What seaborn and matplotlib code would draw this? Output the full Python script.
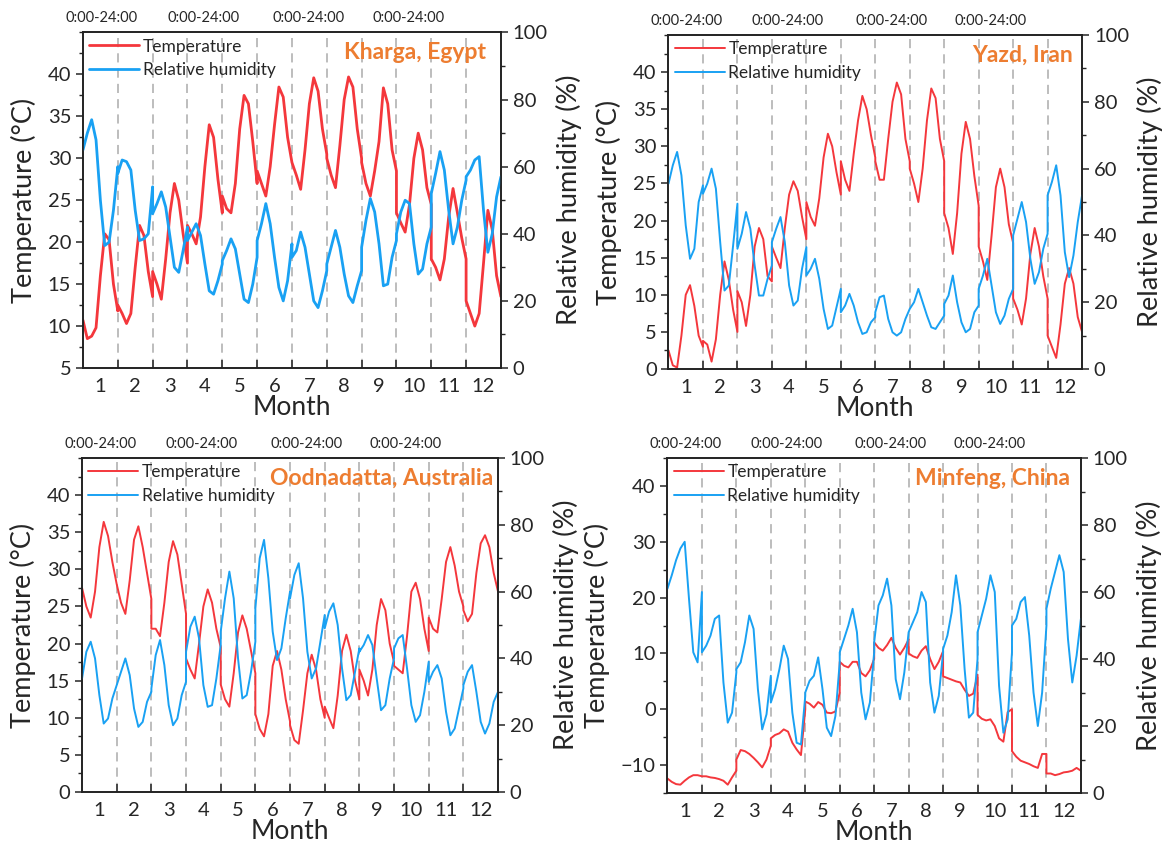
import pandas as pd
import seaborn as sns
import matplotlib.pyplot as plt
from matplotlib.ticker import MultipleLocator
import matplotlib.transforms as mtransforms

# each month is one mean day (0:00-24:00), read every 3 hours
MONTHS = list(range(1, 13))
HOURS = [0, 3, 6, 9, 12, 15, 18, 21, 24]

KHARGA_T = [
    [10.7, 8.5, 8.8, 9.8, 16.0, 21.0, 20.3, 15.0, 11.8],
    [12.5, 11.5, 10.3, 11.5, 17.0, 22.0, 20.8, 16.5, 13.5],
    [16.5, 15.0, 13.2, 18.0, 23.5, 27.0, 25.0, 21.0, 17.5],
    [22.0, 21.0, 19.8, 23.0, 29.0, 34.0, 32.5, 27.5, 23.5],
    [25.5, 24.0, 23.5, 27.0, 33.5, 37.5, 36.5, 32.0, 27.0],
    [28.5, 27.0, 25.5, 29.0, 34.0, 38.5, 37.3, 32.5, 29.5],
    [29.5, 28.0, 26.3, 31.0, 36.5, 39.6, 38.0, 33.5, 30.5],
    [30.0, 28.0, 26.5, 31.5, 37.0, 39.7, 38.5, 33.5, 30.0],
    [29.5, 27.0, 25.5, 28.5, 32.0, 38.4, 36.5, 31.0, 28.5],
    [23.5, 22.3, 21.2, 24.5, 30.0, 33.0, 31.0, 26.5, 24.5],
    [18.0, 17.0, 15.5, 18.0, 23.0, 26.4, 23.5, 20.5, 18.0],
    [13.0, 11.5, 10.0, 11.5, 17.5, 23.8, 21.5, 16.0, 13.5],
]
KHARGA_RH = [
    [65, 70, 74, 68, 50, 36.5, 37.5, 47, 60],
    [58, 62, 61.5, 59, 47, 38, 38.5, 40, 54],
    [46, 49, 52.5, 48, 39, 30, 28.5, 35, 42],
    [38, 40.5, 43, 39.5, 31, 23, 22, 26, 31],
    [32, 35, 38.5, 35.5, 28, 20.5, 19.5, 25, 33],
    [38, 43, 49, 43, 33, 24, 20, 26, 37],
    [33, 35, 40.5, 36, 28, 20, 18, 23, 29],
    [31, 36, 41, 36, 28, 21.5, 19.5, 24.5, 29],
    [36, 44, 50.5, 46.5, 37, 24.5, 25, 33, 38],
    [40, 46.5, 50, 49, 37, 28, 29.5, 37, 42],
    [52, 58, 64.5, 59, 47, 37, 42, 50, 56],
    [57, 59, 62, 63, 47, 34.5, 40, 51, 57],
]

YAZD_T = [
    [2.5, 0.5, 0.2, 4.5, 10.0, 11.3, 8.5, 4.5, 3.0],
    [3.8, 3.3, 1.0, 4.0, 10.0, 14.5, 12.0, 8.0, 5.0],
    [10.5, 9.0, 5.8, 10.0, 16.5, 19.0, 17.5, 12.5, 11.8],
    [16.5, 15.0, 13.6, 19.0, 23.5, 25.3, 24.0, 20.5, 17.5],
    [22.5, 20.5, 19.3, 23.0, 28.5, 31.7, 30.0, 26.5, 23.5],
    [28.0, 25.5, 24.0, 29.0, 33.5, 36.8, 35.0, 31.5, 28.5],
    [28.0, 25.5, 25.5, 31.0, 36.0, 38.6, 37.0, 31.0, 28.0],
    [27.0, 25.0, 22.5, 27.0, 33.5, 37.8, 36.5, 31.0, 28.0],
    [21.0, 19.0, 15.5, 21.0, 29.0, 33.3, 31.0, 26.0, 22.0],
    [16.5, 14.5, 12.0, 18.0, 24.5, 27.0, 24.5, 19.5, 17.0],
    [9.5, 8.0, 6.0, 9.5, 15.5, 19.0, 16.5, 12.5, 9.5],
    [4.5, 3.0, 1.5, 6.0, 11.5, 13.6, 11.5, 7.0, 5.0],
]
YAZD_RH = [
    [55.5, 61, 65, 58, 43, 33, 36, 50, 55],
    [52.5, 55.5, 60, 54, 38, 23.5, 25, 37, 49.5],
    [36, 40.5, 47, 42, 31, 22, 22, 27, 31],
    [38, 42, 45.5, 38, 25, 19, 20.5, 30, 36.5],
    [28, 30, 33, 27, 18, 12, 13, 18.5, 24],
    [17, 19, 22.5, 19, 14, 10.5, 11, 14, 15.5],
    [17, 21.5, 22, 15, 11, 10, 11, 15, 18],
    [18, 20, 24, 20, 16, 12.5, 12, 14, 16],
    [19.5, 22, 28, 20, 14, 11, 12, 17, 19],
    [24, 28, 33, 25, 17, 13.5, 16, 21, 24],
    [40, 45, 50, 44, 33, 25.5, 29, 36, 40.5],
    [52, 56, 61, 52, 35, 27.5, 34, 44, 52],
]

OODNADATTA_T = [
    [27.5, 25.0, 23.5, 27.0, 33.0, 36.4, 34.5, 31.0, 28.0],
    [28.0, 25.5, 24.0, 28.5, 34.0, 35.8, 33.0, 29.5, 26.0],
    [22.0, 22.0, 21.0, 25.5, 31.0, 33.8, 32.0, 28.0, 24.0],
    [18.0, 16.5, 15.3, 20.0, 25.0, 27.3, 25.5, 22.0, 19.5],
    [14.5, 12.5, 11.5, 16.0, 21.5, 23.8, 22.0, 19.0, 16.0],
    [10.5, 8.5, 7.5, 10.5, 17.0, 19.0, 16.5, 12.5, 9.5],
    [9.0, 7.0, 6.5, 11.0, 16.0, 18.5, 16.5, 12.5, 10.0],
    [11.5, 10.0, 8.6, 13.0, 19.0, 21.2, 19.0, 15.0, 12.5],
    [16.5, 15.0, 13.0, 16.5, 22.5, 26.0, 24.5, 20.0, 17.5],
    [17.0, 16.5, 16.0, 21.0, 27.0, 28.2, 26.0, 22.0, 19.0],
    [23.5, 22.0, 21.5, 26.0, 31.0, 33.0, 30.5, 27.0, 25.0],
    [24.5, 23.0, 24.0, 29.5, 33.5, 34.6, 33.0, 29.5, 27.0],
]
OODNADATTA_RH = [
    [34, 42, 45, 40, 29, 20.5, 22, 28, 32],
    [32, 36, 40, 35, 25, 19.5, 21, 27, 30],
    [31, 41, 45.5, 38, 26, 20, 22, 29, 33],
    [42, 49.5, 52.5, 46, 32, 25.5, 26, 34, 44],
    [48, 58, 66, 58, 40, 28, 29, 36, 45],
    [55, 70, 75.5, 64, 48, 39.5, 43, 52, 60],
    [58, 65, 68.5, 58, 42, 34, 37, 45, 53],
    [49, 54, 56.5, 50, 37, 27.5, 29, 36, 43],
    [42, 44, 47, 44, 34, 24.5, 26, 34, 40],
    [43, 46, 47, 37, 26, 21, 23, 30, 39],
    [33, 36, 38, 34, 24, 17, 19, 25, 31],
    [32, 36, 38, 30, 21, 17.5, 20.5, 27, 30],
]

MINFENG_T = [
    [-12.4, -13.0, -13.4, -13.5, -12.8, -12.2, -11.8, -11.8, -12.0],
    [-12.0, -12.0, -12.2, -12.3, -12.5, -12.8, -13.5, -12.2, -11.0],
    [-9.0, -7.3, -7.5, -8.0, -8.7, -9.5, -10.4, -9.0, -6.5],
    [-5.2, -4.6, -4.3, -3.6, -4.0, -6.0, -7.2, -8.2, 0.0],
    [1.4, 1.0, 0.3, 1.3, 0.8, -0.6, -0.7, -0.4, 3.0],
    [8.5, 7.8, 7.5, 8.5, 8.5, 6.5, 5.9, 7.0, 9.0],
    [12.0, 11.0, 10.5, 11.5, 12.8, 11.0, 9.8, 11.0, 12.5],
    [10.0, 9.5, 9.2, 10.5, 11.3, 9.0, 7.2, 8.5, 10.4],
    [5.9, 5.6, 5.3, 5.0, 4.8, 3.5, 2.4, 2.8, 6.2],
    [-1.0, -1.7, -2.0, -1.8, -3.0, -5.2, -5.8, -0.5, 0.0],
    [-7.5, -8.5, -9.2, -9.5, -9.8, -10.2, -10.5, -8.0, -8.0],
    [-11.5, -11.5, -11.8, -11.6, -11.3, -11.2, -11.0, -10.5, -11.0],
]
MINFENG_RH = [
    [61, 65, 69.5, 73, 75, 58, 42, 39, 60],
    [42, 44, 47, 52, 53, 33, 21, 24, 36],
    [37, 39, 45, 53, 49, 31, 19, 23.5, 35],
    [27, 31, 37, 44, 40, 24, 15, 14.5, 29],
    [30, 33.5, 35, 40.5, 31, 19.5, 17, 23, 39],
    [42, 46, 50, 55, 48, 30, 22, 27, 42],
    [45, 56, 59, 64, 56, 34, 28, 36, 48],
    [48, 51, 54, 60, 57, 33, 24, 29, 42],
    [43, 47, 54, 65, 56, 37, 22.5, 24, 40],
    [48, 53, 58, 65, 60, 32, 18, 22, 42],
    [50, 52, 57, 58.5, 47, 30, 20, 30, 50],
    [55, 61, 66, 71, 66, 46, 33, 41, 52],
]

RED = "#F4373C"
BLUE = "#19A1F3"
ORANGE = "#ED7D31"


def to_frame(values):
    rows = []
    for m, day in zip(MONTHS, values):
        for h, v in zip(HOURS, day):
            rows.append((m - 0.5 + h / 24, v))
    return pd.DataFrame(rows, columns=["pos", "value"])


def draw_panel(rect, name, temp, rh, ylim, ystep, title_x, lw):
    ax = fig.add_axes(rect)
    ax2 = ax.twinx()

    for m in MONTHS[:-1]:
        ax.axvline(m + 0.5, color="#ABABAB", lw=1.1, dashes=(6, 4), zorder=0)

    sns.lineplot(data=to_frame(temp), x="pos", y="value", ax=ax, color=RED,
                 lw=lw, estimator=None, sort=False, legend=False,
                 label="Temperature")
    sns.lineplot(data=to_frame(rh), x="pos", y="value", ax=ax2, color=BLUE,
                 lw=lw, estimator=None, sort=False, legend=False,
                 label="Relative humidity")

    ax.set_xlim(0.5, 12.5)
    ax.set_ylim(*ylim)
    ax2.set_ylim(0, 100)
    ax.yaxis.set_major_locator(MultipleLocator(ystep))
    ax.yaxis.set_minor_locator(MultipleLocator(ystep / 2))
    ax2.yaxis.set_major_locator(MultipleLocator(20))
    ax2.yaxis.set_minor_locator(MultipleLocator(10))
    ax.set_yticks([t for t in ax.get_yticks() if ylim[0] <= t <= 40])

    ax.set_xticks(MONTHS)
    ax.set_xticks([m + 0.5 for m in MONTHS[:-1]], minor=True)
    ax.tick_params(axis="x", which="major", length=0, labelsize=14.5, pad=7)
    ax.tick_params(axis="x", which="minor", direction="in", length=6, width=1.1)
    ax.tick_params(axis="y", which="major", direction="out", length=5, width=1.1, labelsize=14.5)
    ax.tick_params(axis="y", which="minor", direction="out", length=3, width=1)
    ax2.tick_params(axis="y", which="major", direction="out", length=5, width=1.1, labelsize=14.5)
    ax2.tick_params(axis="y", which="minor", direction="out", length=3, width=1)

    ax.set_xlabel("Month", fontsize=19, labelpad=0)
    ax.set_ylabel("Temperature (°C)", fontsize=19.5, labelpad=8)
    ax2.set_ylabel("Relative humidity (%)", fontsize=19.5, labelpad=6)

    for a in (ax, ax2):
        for s in a.spines.values():
            s.set_linewidth(1.2)
            s.set_color("#222222")

    h1, l1 = ax.get_legend_handles_labels()
    h2, l2 = ax2.get_legend_handles_labels()
    ax2.legend(h1 + h2, l1 + l2, loc="upper left", bbox_to_anchor=(0, 1),
               frameon=False, fontsize=12.5, handlelength=2.9,
               handletextpad=0.2, borderaxespad=0.25, borderpad=0.1,
               labelspacing=0.45)

    ax2.text(title_x, 0.94, name, transform=ax.transAxes, ha="right",
             va="center", color=ORANGE, fontsize=16.5, fontweight="bold")

    trans = mtransforms.blended_transform_factory(ax.transData, ax.transAxes)
    for xp in [1.03, 3.95, 6.97, 9.84]:
        ax.text(xp, 1.022, "0:00-24:00", transform=trans, ha="center",
                va="bottom", fontsize=10.5)
    return ax, ax2


sns.set_style("ticks")
plt.rcParams["font.family"] = ["Lato", "DejaVu Sans"]

fig = plt.figure(figsize=(11.62, 8.46), dpi=100)

draw_panel([0.0714, 0.565, 0.3597, 0.3966], "Kharga, Egypt",
           KHARGA_T, KHARGA_RH, (5, 45), 5, 0.965, 2.0)
draw_panel([0.5753, 0.5638, 0.3559, 0.3948], "Yazd, Iran",
           YAZD_T, YAZD_RH, (0, 45), 5, 0.977, 1.4)
draw_panel([0.0706, 0.0638, 0.3580, 0.3948], "Oodnadatta, Australia",
           OODNADATTA_T, OODNADATTA_RH, (0, 45), 5, 0.988, 1.4)
draw_panel([0.5744, 0.0626, 0.3558, 0.3960], "Minfeng, China",
           MINFENG_T, MINFENG_RH, (-15, 45), 10, 0.973, 1.4)

plt.savefig("out.png", dpi=100)
